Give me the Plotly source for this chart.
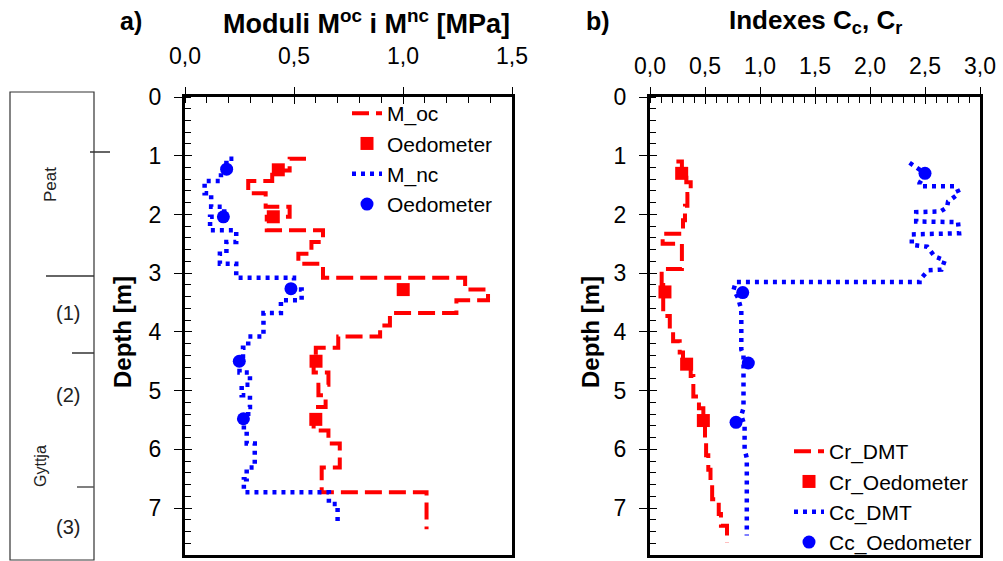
import plotly.graph_objects as go

# ---------------- data ----------------
# Panel a) : constrained moduli, step profiles (value holds down to the listed depth)
M_oc_depth = [1.05, 1.25, 1.43, 1.64, 1.87, 2.04, 2.27, 2.47, 2.67, 2.84, 3.08, 3.28, 3.46, 3.68, 3.89,
              4.08, 4.27, 4.48, 4.69, 4.90, 5.08, 5.28, 5.48, 5.68, 5.90, 6.10, 6.31, 6.51, 6.73, 7.36]
M_oc = [0.555, 0.48, 0.40, 0.29, 0.37, 0.48, 0.375, 0.633, 0.58, 0.52, 0.633, 1.285, 1.39, 1.245, 0.94,
        0.895, 0.703, 0.60, 0.59, 0.658, 0.612, 0.645, 0.60, 0.59, 0.658, 0.71, 0.71, 0.627, 0.627, 1.108]

M_nc_depth = [1.05, 1.25, 1.43, 1.64, 1.87, 2.04, 2.27, 2.47, 2.67, 2.84, 3.08, 3.28, 3.46, 3.68, 3.89,
              4.08, 4.27, 4.48, 4.69, 4.90, 5.08, 5.28, 5.48, 5.68, 5.90, 6.10, 6.31, 6.51, 6.73, 6.93, 7.25]
M_nc = [0.222, 0.19, 0.165, 0.09, 0.12, 0.18, 0.115, 0.235, 0.19, 0.16, 0.235, 0.50, 0.535, 0.44, 0.36,
        0.36, 0.29, 0.266, 0.25, 0.298, 0.26, 0.298, 0.29, 0.27, 0.283, 0.32, 0.32, 0.283, 0.27, 0.66, 0.70]

Moc_oed = [0.428, 0.405, 1.001, 0.601, 0.600]
Moc_oed_depth = [1.24, 2.04, 3.28, 4.50, 5.49]
Mnc_oed = [0.191, 0.176, 0.486, 0.249, 0.268]
Mnc_oed_depth = [1.23, 2.04, 3.265, 4.50, 5.48]

# Panel b) : compression / recompression indexes
Cr_depth = [1.10, 1.33, 1.45, 1.65, 1.85, 2.10, 2.33, 2.50, 2.93, 3.20, 3.55, 3.73, 3.95, 4.16,
            4.35, 4.55, 4.75, 5.10, 5.30, 5.55, 5.85, 6.10, 6.35, 6.60, 6.85, 7.10, 7.30, 7.59]
Cr = [0.24, 0.29, 0.33, 0.37, 0.34, 0.318, 0.30, 0.115, 0.29, 0.106, 0.12, 0.12, 0.18, 0.21,
      0.27, 0.30, 0.37, 0.394, 0.445, 0.485, 0.50, 0.51, 0.53, 0.55, 0.565, 0.625, 0.645, 0.70]

Cc = [2.36, 2.50, 2.45, 2.455, 2.78, 2.81, 2.71, 2.70, 2.64, 2.42, 2.42, 2.80, 2.81, 2.38, 2.38,
      2.52, 2.59, 2.68, 2.65, 2.53, 2.45, 2.45, 0.78, 0.76, 0.80, 0.83, 0.83, 0.85, 0.85, 0.83,
      0.86, 0.86, 0.88, 0.88]
Cc_depth = [1.12, 1.30, 1.47, 1.52, 1.52, 1.64, 1.78, 1.88, 1.95, 1.96, 2.12, 2.13, 2.32, 2.34, 2.52,
            2.55, 2.72, 2.78, 2.94, 2.95, 3.12, 3.15, 3.15, 3.28, 3.42, 3.62, 4.30, 4.40, 5.30, 5.42,
            5.60, 6.00, 6.15, 7.47]

Cr_oed = [0.288, 0.136, 0.333, 0.485]
Cr_oed_depth = [1.30, 3.32, 4.55, 5.51]
Cc_oed = [2.50, 0.843, 0.894, 0.782]
Cc_oed_depth = [1.30, 3.33, 4.53, 5.54]

# Soil column
layer_names = ["Peat", "(1)", "(2)", "Gyttja", "(3)"]

# ---------------- styling ----------------
W, H = 1003, 561
FONT = "Liberation Sans, Arial, sans-serif"
RED = "#FF0000"
BLUE = "#0000FF"
RED_DASH = "17px,7px"
BLUE_DOT = "4px,5px"


def px(x):
    return x / W


def py(y):
    return 1 - y / H


fig = go.Figure()

# ---- panel a
fig.add_trace(go.Scatter(x=M_oc, y=M_oc_depth, mode="lines", line_shape="hv", name="M_oc",
                         line=dict(color=RED, width=4, dash=RED_DASH), xaxis="x", yaxis="y", legend="legend"))
fig.add_trace(go.Scatter(x=Moc_oed, y=Moc_oed_depth, mode="markers", name="Oedometer",
                         marker=dict(symbol="square", size=13, color=RED), xaxis="x", yaxis="y", legend="legend"))
fig.add_trace(go.Scatter(x=M_nc, y=M_nc_depth, mode="lines", line_shape="hv", name="M_nc",
                         line=dict(color=BLUE, width=4.5, dash=BLUE_DOT), xaxis="x", yaxis="y", legend="legend"))
fig.add_trace(go.Scatter(x=Mnc_oed, y=Mnc_oed_depth, mode="markers", name="Oedometer",
                         marker=dict(symbol="circle", size=13, color=BLUE), xaxis="x", yaxis="y", legend="legend"))

# ---- panel b
fig.add_trace(go.Scatter(x=Cr, y=Cr_depth, mode="lines", line_shape="hv", name="Cr_DMT",
                         line=dict(color=RED, width=4, dash=RED_DASH), xaxis="x2", yaxis="y2", legend="legend2"))
fig.add_trace(go.Scatter(x=Cr_oed, y=Cr_oed_depth, mode="markers", name="Cr_Oedometer",
                         marker=dict(symbol="square", size=13, color=RED), xaxis="x2", yaxis="y2", legend="legend2"))
fig.add_trace(go.Scatter(x=Cc, y=Cc_depth, mode="lines", name="Cc_DMT",
                         line=dict(color=BLUE, width=4.5, dash=BLUE_DOT), xaxis="x2", yaxis="y2", legend="legend2"))
fig.add_trace(go.Scatter(x=Cc_oed, y=Cc_oed_depth, mode="markers", name="Cc_Oedometer",
                         marker=dict(symbol="circle", size=13, color=BLUE), xaxis="x2", yaxis="y2", legend="legend2"))

# invisible traces so the overlay (inside-tick) axes are drawn
fig.add_trace(go.Scatter(x=[None], y=[None], xaxis="x3", yaxis="y3", showlegend=False, hoverinfo="skip"))
fig.add_trace(go.Scatter(x=[None], y=[None], xaxis="x4", yaxis="y4", showlegend=False, hoverinfo="skip"))

YD = [py(555), py(97)]
XD1 = [px(185), px(512)]
XD2 = [px(650), px(980)]
YR = [7.8, 0]
tickfont = dict(family=FONT, size=23, color="black")


def xax(domain, rng, dtick, anchor, standoff):
    return dict(domain=domain, range=rng, side="top", anchor=anchor, dtick=dtick, tick0=0,
                tickformat=".1f", showgrid=False, zeroline=False, automargin=False,
                showline=True, linewidth=3, linecolor="black", mirror=True,
                ticks="outside", ticklen=7, tickwidth=1, tickcolor="black",
                minor=dict(ticks="inside", dtick=0.1, ticklen=6, tickwidth=1, tickcolor="black"),
                tickfont=tickfont, ticklabelstandoff=standoff, fixedrange=True)


def yax(domain, anchor):
    return dict(domain=domain, range=YR, anchor=anchor, dtick=1, tick0=0, showgrid=False, zeroline=False,
                showline=True, linewidth=3, linecolor="black", mirror=True, automargin=False,
                ticks="outside", ticklen=8, tickwidth=1, tickcolor="black",
                minor=dict(ticks="inside", dtick=0.2, ticklen=6, tickwidth=1, tickcolor="black"),
                tickfont=tickfont, ticklabelstandoff=8, fixedrange=True)


def xover(over, rng, dtick, anchor):
    return dict(overlaying=over, range=rng, side="top", anchor=anchor, dtick=dtick, tick0=0,
                showticklabels=False, showgrid=False, zeroline=False, showline=False, automargin=False,
                ticks="inside", ticklen=7, tickwidth=1, tickcolor="black", fixedrange=True)


def yover(over, anchor):
    return dict(overlaying=over, range=YR, anchor=anchor, dtick=1, tick0=0, side="left",
                showticklabels=False, showgrid=False, zeroline=False, showline=False, automargin=False,
                ticks="inside", ticklen=7, tickwidth=1, tickcolor="black", fixedrange=True)


legend_font = dict(family=FONT, size=21, color="black")

layout = dict(
    width=W, height=H, autosize=False,
    margin=dict(l=0, r=0, t=0, b=0, pad=0, autoexpand=False),
    paper_bgcolor="white", plot_bgcolor="white",
    separators=", ",
    font=dict(family=FONT, color="black"),
    xaxis=xax(XD1, [0, 1.5], 0.5, "y", 14),
    yaxis=yax(YD, "x"),
    xaxis2=xax(XD2, [0, 3.0], 0.5, "y2", 4),
    yaxis2=yax(YD, "x2"),
    xaxis3=xover("x", [0, 1.5], 0.5, "y"),
    yaxis3=yover("y", "x"),
    xaxis4=xover("x2", [0, 3.0], 0.5, "y2"),
    yaxis4=yover("y2", "x2"),
    legend=dict(x=px(347), y=py(93), xanchor="left", yanchor="top", bgcolor="rgba(0,0,0,0)",
                font=legend_font, tracegroupgap=0, itemwidth=30),
    legend2=dict(x=px(789), y=py(431), xanchor="left", yanchor="top", bgcolor="rgba(0,0,0,0)",
                 font=legend_font, tracegroupgap=0, itemwidth=30),
    showlegend=True,
)
fig.update_layout(**layout)


def note(text, x, y, size, angle=0, color="black"):
    return dict(text=text, x=px(x), y=py(y), xref="paper", yref="paper", showarrow=False,
                xanchor="center", yanchor="middle", textangle=angle,
                font=dict(family=FONT, size=size, color=color))


ann = [
    note("<b>a)</b>", 131, 21, 25),
    note("<b>Moduli M<sup>oc</sup> i M<sup>nc</sup> [MPa]</b>", 366, 22, 27),
    note("<b>b)</b>", 598, 21, 25),
    note("<b>Indexes C<sub>c</sub>, C<sub>r</sub></b>", 815, 22, 26),
    note("<b>Depth [m]</b>", 122, 332, 24, -90),
    note("<b>Depth [m]</b>", 590, 332, 24, -90),
    note(layer_names[0], 50, 185, 17, -90, "#222"),
    note(layer_names[1], 68, 313, 20, 0, "#222"),
    note(layer_names[2], 68, 395, 20, 0, "#222"),
    note(layer_names[3], 40, 466, 16, -90, "#222"),
    note(layer_names[4], 68, 527, 20, 0, "#222"),
]
fig.update_layout(annotations=ann)

# ---- soil column frame and boundaries
shapes = [
    dict(type="rect", xref="paper", yref="paper", x0=px(10), x1=px(94), y0=py(560), y1=py(92),
         line=dict(color="#333", width=1.2)),
    dict(type="line", xref="paper", yref="paper", x0=px(90), x1=px(110), y0=py(152), y1=py(152),
         line=dict(color="#333", width=1.5)),
    dict(type="line", xref="paper", yref="paper", x0=px(46), x1=px(94), y0=py(276), y1=py(276),
         line=dict(color="#333", width=1.5)),
    dict(type="line", xref="paper", yref="paper", x0=px(72), x1=px(94), y0=py(353), y1=py(353),
         line=dict(color="#333", width=1.5)),
    dict(type="line", xref="paper", yref="paper", x0=px(77), x1=px(94), y0=py(487), y1=py(487),
         line=dict(color="#555", width=1.5)),
]
fig.update_layout(shapes=shapes)

fig.write_html("out.html")
